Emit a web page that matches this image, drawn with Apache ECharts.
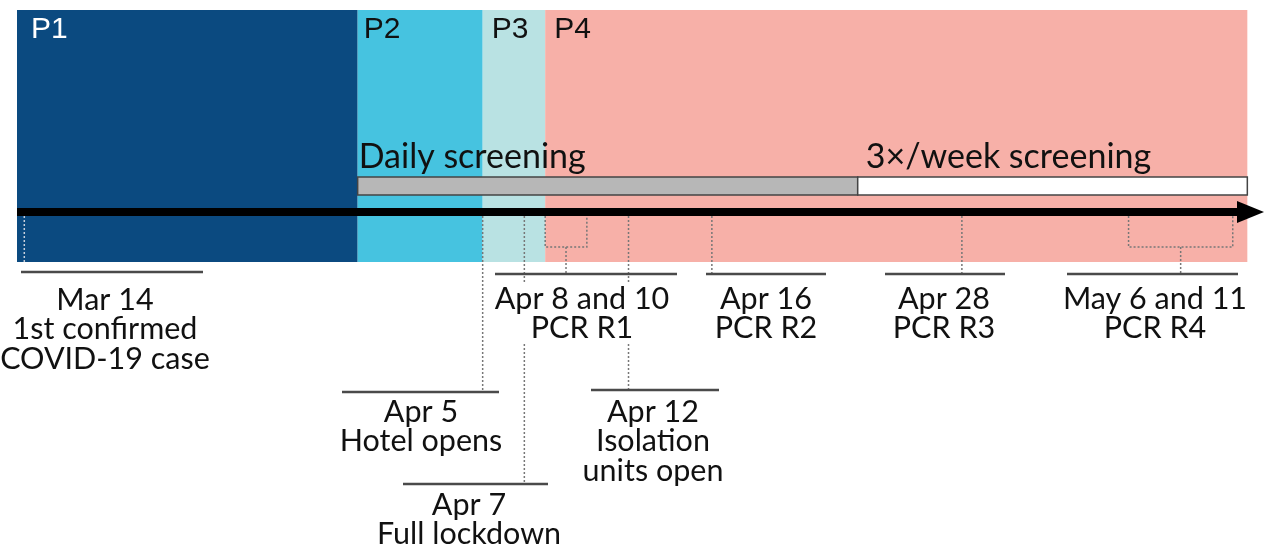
<!DOCTYPE html>
<html>
<head>
<meta charset="utf-8">
<script src="https://cdn.jsdelivr.net/npm/echarts@6/dist/echarts.min.js"></script>
<style>
  html, body { margin: 0; padding: 0; background: #fff; }
  #chart { width: 1269px; height: 548px; }
</style>
</head>
<body>
<div id="chart"></div>
<script>
// data: dates of the study timeline
const periodNames = ['P1', 'P2', 'P3', 'P4']
const periodStart = ['2020-03-14', '2020-03-30', '2020-04-05', '2020-04-08']
const screeningNames = ['Daily screening', '3×/week screening']
const screeningStart = ['2020-03-30', '2020-04-23']
const eventDates = [
  ['2020-03-14'], ['2020-04-05'], ['2020-04-07'], ['2020-04-08', '2020-04-10'],
  ['2020-04-12'], ['2020-04-16'], ['2020-04-28'], ['2020-05-06', '2020-05-11']
]
const eventTitles = ['Mar 14', 'Apr 5', 'Apr 7', 'Apr 8 and 10', 'Apr 12', 'Apr 16', 'Apr 28', 'May 6 and 11']
const eventNotes = ['1st confirmed\nCOVID-19 case', 'Hotel opens', 'Full lockdown', 'PCR R1',
  'Isolation\nunits open', 'PCR R2', 'PCR R3', 'PCR R4']

// styles / layout
const periodColors = ['#0b4a80', '#46c3e0', '#b9e2e3', '#f7b0a8']
const periodLabelPad = [14, 6, 9, 9]
const screeningFill = ['#b7b7b7', '#ffffff']
const X_MIN = -0.35, X_MAX = 59.5, BAND_END = 58.7
const BAND_TOP = 10, BAND_BOTTOM = 262
const BAR_TOP = 177, BAR_BOTTOM = 195, SCREEN_TEXT_Y = 157
const ARROW_Y = 212, ARROW_W = 8, HEAD_LEN = 27, HEAD_HALF = 11
const BRACKET_Y = 247
// label boxes: [line left, line right, line y, text center x, text top]
const eventLayout = [
  [21, 203, 272, 105, 285],
  [342, 499, 392, 421, 397],
  [403, 548, 484, 469, 490],
  [495, 677, 274, 582, 284],
  [591, 719, 390, 653, 397],
  [706, 826, 274, 766, 284],
  [885, 1005, 274, 944, 284],
  [1067, 1238, 274, 1155, 284]
]
const TEXT_FONT = 'Lato'
const LABEL_SIZE = 30.5
const LINE_H = 29.5

const dayOf = s => (Date.parse(s + 'T00:00:00Z') - Date.parse('2020-03-14T00:00:00Z')) / 86400000

const chart = echarts.init(document.getElementById('chart'))

const periodData = periodNames.map((n, i) => [
  i === 0 ? X_MIN : dayOf(periodStart[i]),
  i < periodNames.length - 1 ? dayOf(periodStart[i + 1]) : BAND_END,
  i
])
const screeningData = screeningNames.map((n, i) => [
  dayOf(screeningStart[i]),
  i < screeningNames.length - 1 ? dayOf(screeningStart[i + 1]) : BAND_END,
  i
])
const eventData = eventDates.map((d, i) => [dayOf(d[0]), dayOf(d[d.length - 1]), i])

let option = {
  animation: false,
  grid: { left: 17, right: 5, top: 0, bottom: 0 },
  xAxis: { type: 'value', min: X_MIN, max: X_MAX, show: false },
  yAxis: { type: 'value', min: 0, max: 548, inverse: true, show: false },
  series: [
    {
      // period bands
      type: 'custom',
      silent: true,
      data: periodData,
      encode: { x: [0, 1], y: 2 },
      renderItem: (params, api) => {
        const i = api.value(2)
        const a = api.coord([api.value(0), BAND_TOP])
        const b = api.coord([api.value(1), BAND_BOTTOM])
        return {
          type: 'group',
          children: [
            { type: 'rect', shape: { x: a[0], y: a[1], width: b[0] - a[0], height: b[1] - a[1] },
              style: { fill: periodColors[i] } },
            { type: 'text', x: a[0] + periodLabelPad[i], y: 30,
              style: { text: periodNames[i], fill: i === 0 ? '#ffffff' : '#111111',
                fontSize: 30, fontFamily: 'Liberation Sans', verticalAlign: 'middle' } }
          ]
        }
      }
    },
    {
      // screening schedule bars
      type: 'custom',
      silent: true,
      data: screeningData,
      encode: { x: [0, 1], y: 2 },
      renderItem: (params, api) => {
        const i = api.value(2)
        const a = api.coord([api.value(0), BAR_TOP])
        const b = api.coord([api.value(1), BAR_BOTTOM])
        return {
          type: 'group',
          children: [
            { type: 'rect', shape: { x: a[0], y: a[1], width: b[0] - a[0], height: b[1] - a[1] },
              style: { fill: screeningFill[i], stroke: '#444444', lineWidth: 1.5 } },
            { type: 'text', x: a[0] + (i === 0 ? 1 : 8), y: SCREEN_TEXT_Y,
              style: { text: screeningNames[i], fill: '#111111', fontSize: 34,
                fontFamily: TEXT_FONT, verticalAlign: 'middle' } }
          ]
        }
      }
    },
    {
      // dotted connectors from the timeline to the labels
      type: 'custom',
      silent: true,
      data: eventData,
      encode: { x: [0, 1], y: 2 },
      renderItem: (params, api) => {
        const i = api.value(2)
        const lay = eventLayout[i]
        const xa = api.coord([api.value(0), 0])[0]
        const xb = api.coord([api.value(1), 0])[0]
        const top = ARROW_Y + ARROW_W / 2
        const dash = { stroke: i === 0 ? '#c8d0da' : '#777777', lineWidth: 1.5, lineDash: [2, 2], fill: null }
        const children = []
        if (xa === xb) {
          const end = i === 0 ? BAND_BOTTOM : lay[2]
          children.push({ type: 'line', shape: { x1: xa, y1: top, x2: xa, y2: end }, style: dash })
        } else {
          const mid = (xa + xb) / 2
          children.push({ type: 'polyline',
            shape: { points: [[xa, top], [xa, BRACKET_Y], [xb, BRACKET_Y], [xb, top]] }, style: dash })
          children.push({ type: 'line', shape: { x1: mid, y1: BRACKET_Y, x2: mid, y2: lay[2] }, style: dash })
        }
        return { type: 'group', children }
      }
    },
    {
      // timeline arrow
      type: 'custom',
      silent: true,
      data: [[X_MIN, X_MAX]],
      encode: { x: [0, 1] },
      renderItem: (params, api) => {
        const a = api.coord([api.value(0), ARROW_Y])
        const b = api.coord([api.value(1), ARROW_Y])
        return {
          type: 'group',
          children: [
            { type: 'rect', shape: { x: a[0], y: a[1] - ARROW_W / 2, width: b[0] - HEAD_LEN - a[0] + 1, height: ARROW_W },
              style: { fill: '#000000' } },
            { type: 'polygon',
              shape: { points: [[b[0] - HEAD_LEN, b[1] - HEAD_HALF], [b[0], b[1]], [b[0] - HEAD_LEN, b[1] + HEAD_HALF]] },
              style: { fill: '#000000' } }
          ]
        }
      }
    },
    {
      // label lines and texts
      type: 'custom',
      silent: true,
      data: eventData,
      encode: { x: [0, 1], y: 2 },
      renderItem: (params, api) => {
        const i = api.value(2)
        const lay = eventLayout[i]
        return {
          type: 'group',
          children: [
            { type: 'line', shape: { x1: lay[0], y1: lay[2], x2: lay[1], y2: lay[2] },
              style: { stroke: '#4a4a4a', lineWidth: 2.5 } },
            { type: 'text', x: lay[3], y: lay[4],
              style: { text: eventTitles[i] + '\n' + eventNotes[i], fill: '#111111',
                fontSize: LABEL_SIZE, fontFamily: TEXT_FONT, lineHeight: LINE_H,
                align: 'center', verticalAlign: 'top', backgroundColor: '#ffffff' } }
          ]
        }
      }
    }
  ]
}

chart.setOption(option)
window.onresize = () => { chart.resize() }
</script>
</body>
</html>
